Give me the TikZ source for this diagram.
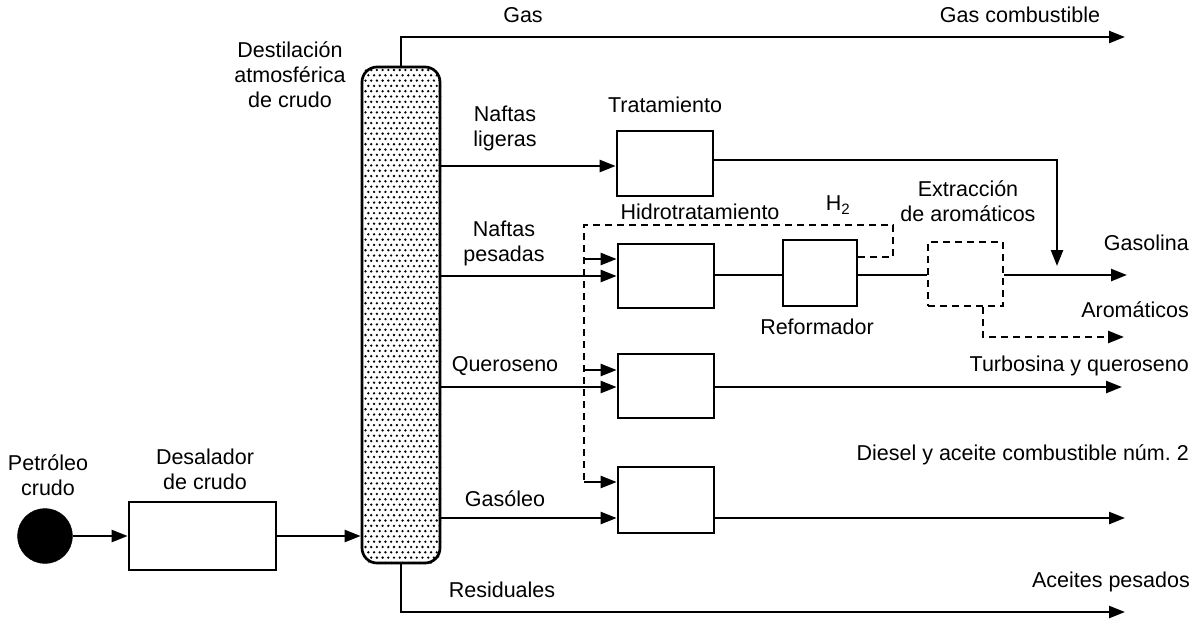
\documentclass[tikz,border=0pt]{standalone}
\usepackage{fontspec}
\setmainfont{Liberation Sans}
\usetikzlibrary{arrows.meta}
\frenchspacing
\begin{document}
\begin{tikzpicture}[x=1pt,y=-1pt,
  every node/.style={font=\fontsize{21.5}{25}\selectfont},
  lbl/.style={inner sep=0pt, align=center},
  rlbl/.style={inner sep=0pt, anchor=east},
  box/.style={draw, line width=2.7pt, minimum width=96pt, minimum height=64pt, inner sep=0pt},
  dbox/.style={box, dash pattern=on 7pt off 5pt},
  column/.style={draw, line width=2.7pt, rounded corners=15pt, minimum width=78pt, minimum height=496pt, inner sep=0pt},
  feed/.style={circle, fill=black, draw=black, minimum size=55pt, inner sep=0pt},
  arr/.style={line width=2.4pt, -{Triangle[length=16pt,width=12pt]}},
  pipe/.style={line width=2.4pt},
  dsh/.style={line width=2.6pt, dash pattern=on 7pt off 5pt},
  darr/.style={dsh, -{Triangle[length=16pt,width=12pt]}}
]
\useasboundingbox (0,0) rectangle (1204,622);

% nodes
\node[feed] (crude) at (45,536) {};
\node[box, minimum width=147pt, minimum height=68pt] (desal) at (202.5,536) {};
\node[column] (col) at (401,315) {};
\begin{scope}
  \clip[rounded corners=15pt] (col.south west) rectangle (col.north east);
  \foreach \j in {0,...,93}{
    \foreach \i in {0,...,13}{
      \fill ({365.5+\i*5.7+mod(\j,2)*2.85},{70+\j*5.3}) circle (1.3pt);
    }
  }
\end{scope}
\node[box, minimum height=65pt] (trat) at (665,163.5) {};
\node[box] (ht1) at (666,276) {};
\node[box, minimum width=74pt, minimum height=66pt] (ref) at (820,273) {};
\node[dbox, minimum width=75pt, minimum height=64pt] (ext) at (965.5,274) {};
\node[box] (ht2) at (666,386) {};
\node[box, minimum height=66pt] (ht3) at (666,500) {};

% free ends
\coordinate (eGas) at (1125,37);
\coordinate (eGasolina) at (1127,275);
\coordinate (eArom) at (1124,337);
\coordinate (eTurbo) at (1122,387);
\coordinate (eDiesel) at (1125,518);
\coordinate (eAceite) at (1125,612);
\coordinate (tJoin) at (1057,266);
\coordinate (h2top) at (893,225);
\coordinate (h2a) at (584,259);
\coordinate (h2b) at (584,370);
\coordinate (h2c) at (584,482);

% connectors
\draw[arr] (crude.east) -- (desal.west |- crude.east);
\draw[arr] (desal.east) -- (col.west |- desal.east);
\draw[arr] (col.north) |- (eGas);
\draw[arr] (col.south) |- (eAceite);
\draw[arr] (col.east |- 0,166) -- (trat.west |- 0,166);
\draw[arr] (trat.east |- 0,160) -| (tJoin);
\draw[arr] (col.east |- 0,276) -- (ht1.west |- 0,276);
\draw[pipe] (ht1.east |- 0,275) -- (ref.west |- 0,275);
\draw[pipe] (ref.east |- 0,275) -- (ext.west |- 0,275);
\draw[arr] (ext.east |- 0,275) -- (eGasolina);
\draw[darr] (ext.south -| 983,0) |- (eArom);
\draw[dsh] (ref.east |- 0,257) -| (h2top) -| (h2c);
\draw[arr] (h2a) -- (ht1.west |- h2a);
\draw[arr] (h2b) -- (ht2.west |- h2b);
\draw[arr] (h2c) -- (ht3.west |- h2c);
\draw[arr] (col.east |- 0,387) -- (ht2.west |- 0,387);
\draw[arr] (ht2.east |- 0,387) -- (eTurbo);
\draw[arr] (col.east |- 0,518) -- (ht3.west |- 0,518);
\draw[arr] (ht3.east |- 0,518) -- (eDiesel);

% labels
\node[lbl] (lPet) at (48,475) {Petróleo\\crudo};
\node[lbl] (lDes) at (205,469) {Desalador\\de crudo};
\node[lbl] (lDest) at (290,75) {Destilación\\atmosférica\\de crudo};
\node[lbl] (lGas) at (523,15) {Gas};
\node[lbl] (lGasC) at (1020,15) {Gas combustible};
\node[lbl] (lNL) at (505,128) {Naftas\\ligeras};
\node[lbl] (lTrat) at (665,105) {Tratamiento};
\node[lbl] (lNP) at (504,243) {Naftas\\pesadas};
\node[lbl] (lHidro) at (700,212) {Hidrotratamiento};
\node[lbl] (lH2) at (838,205) {H\textsubscript{2}};
\node[lbl] (lExt) at (968,201) {Extracción\\de aromáticos};
\node[lbl] (lRef) at (817,327) {Reformador};
\node[rlbl] (lGasol) at (1189,243) {Gasolina};
\node[rlbl] (lArom) at (1189,310) {Aromáticos};
\node[lbl] (lQue) at (505,366) {Queroseno};
\node[rlbl] (lTurb) at (1189,366) {Turbosina y queroseno};
\node[lbl] (lGso) at (505,499) {Gasóleo};
\node[rlbl] (lDies) at (1189,455) {Diesel y aceite combustible núm. 2};
\node[lbl] (lRes) at (502,590) {Residuales};
\node[rlbl] (lAce) at (1190,582) {Aceites pesados};
\end{tikzpicture}
\end{document}
